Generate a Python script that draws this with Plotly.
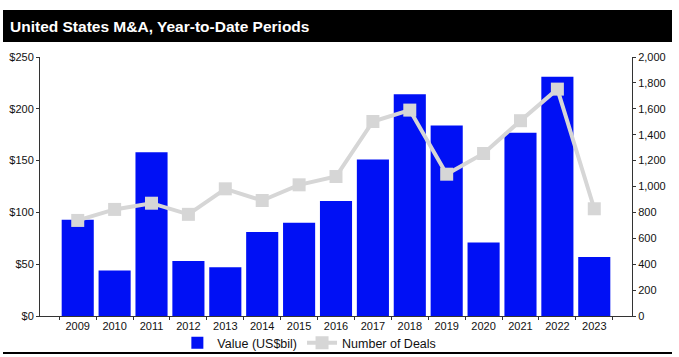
import plotly.graph_objects as go

years = ["2009", "2010", "2011", "2012", "2013", "2014", "2015", "2016",
         "2017", "2018", "2019", "2020", "2021", "2022", "2023"]
value_usd_bil = [93, 44, 158, 53, 47, 81, 90, 111, 151, 214, 184, 71, 177, 231, 57]
num_deals = [738, 823, 871, 785, 982, 892, 1013, 1077, 1502, 1590, 1095, 1255, 1508, 1752, 828]
left_ticks = [0, 50, 100, 150, 200, 250]
right_ticks = [0, 200, 400, 600, 800, 1000, 1200, 1400, 1600, 1800, 2000]

W, H = 679, 357
L, R, T, B = 40, 47, 57, 41
pw, ph = W - L - R, H - T - B

def px(x):
    return (x - L) / pw

def py(y):
    return (H - B - y) / ph

font = "Arial, Liberation Sans, sans-serif"

fig = go.Figure()
fig.add_trace(go.Bar(
    x=years, y=value_usd_bil, name="Value (US$bil)",
    marker=dict(color="#0010F5", line=dict(width=0)),
    yaxis="y",
))
fig.add_trace(go.Scatter(
    x=years, y=num_deals, name="Number of Deals", mode="lines+markers",
    line=dict(color="#D6D6D6", width=4),
    marker=dict(symbol="square", size=13, color="#D6D6D6"),
    yaxis="y2",
))

fig.update_layout(
    width=W, height=H,
    margin=dict(l=L, r=R, t=T, b=B, autoexpand=False),
    paper_bgcolor="white", plot_bgcolor="white",
    bargap=0.13,
    font=dict(family=font, size=11, color="#111"),
    showlegend=True,
    legend=dict(orientation="h", x=0.455, xanchor="center", y=py(328), yanchor="top",
                font=dict(size=12.5, color="#111"), bgcolor="rgba(0,0,0,0)",
                itemwidth=30, tracegroupgap=0),
    xaxis=dict(
        type="category", showline=True, linecolor="#333", linewidth=1,
        ticks="outside", ticklen=3, tickcolor="#333", tickson="boundaries",
        showgrid=False, tickfont=dict(size=11, color="#111"),
    ),
    yaxis=dict(
        range=[0, 250], tickvals=left_ticks, ticktext=[f"${v}" for v in left_ticks],
        showline=True, linecolor="#333", linewidth=1,
        ticks="outside", ticklen=3, tickcolor="#333",
        showgrid=False, zeroline=False, tickfont=dict(size=11, color="#111"),
    ),
    yaxis2=dict(
        range=[0, 2000], tickvals=right_ticks, tickformat=",",
        overlaying="y", side="right",
        showline=True, linecolor="#333", linewidth=1,
        ticks="outside", ticklen=3, tickcolor="#333",
        showgrid=False, zeroline=False, tickfont=dict(size=11, color="#111"),
    ),
    shapes=[
        dict(type="rect", xref="paper", yref="paper",
             x0=px(3), x1=px(672), y0=py(42), y1=py(10),
             fillcolor="black", line=dict(width=0), layer="below"),
        dict(type="line", xref="paper", yref="paper",
             x0=px(3), x1=px(672), y0=py(353), y1=py(353),
             line=dict(color="black", width=2)),
    ],
    annotations=[
        dict(text="<b>United States M&A, Year-to-Date Periods</b>",
             xref="paper", yref="paper", x=px(8), y=py(26),
             xanchor="left", yanchor="middle", showarrow=False,
             font=dict(family=font, size=15.5, color="white")),
    ],
)

fig.write_html("out.html", config={"displayModeBar": False},
               post_script="document.body.style.margin='0';")
